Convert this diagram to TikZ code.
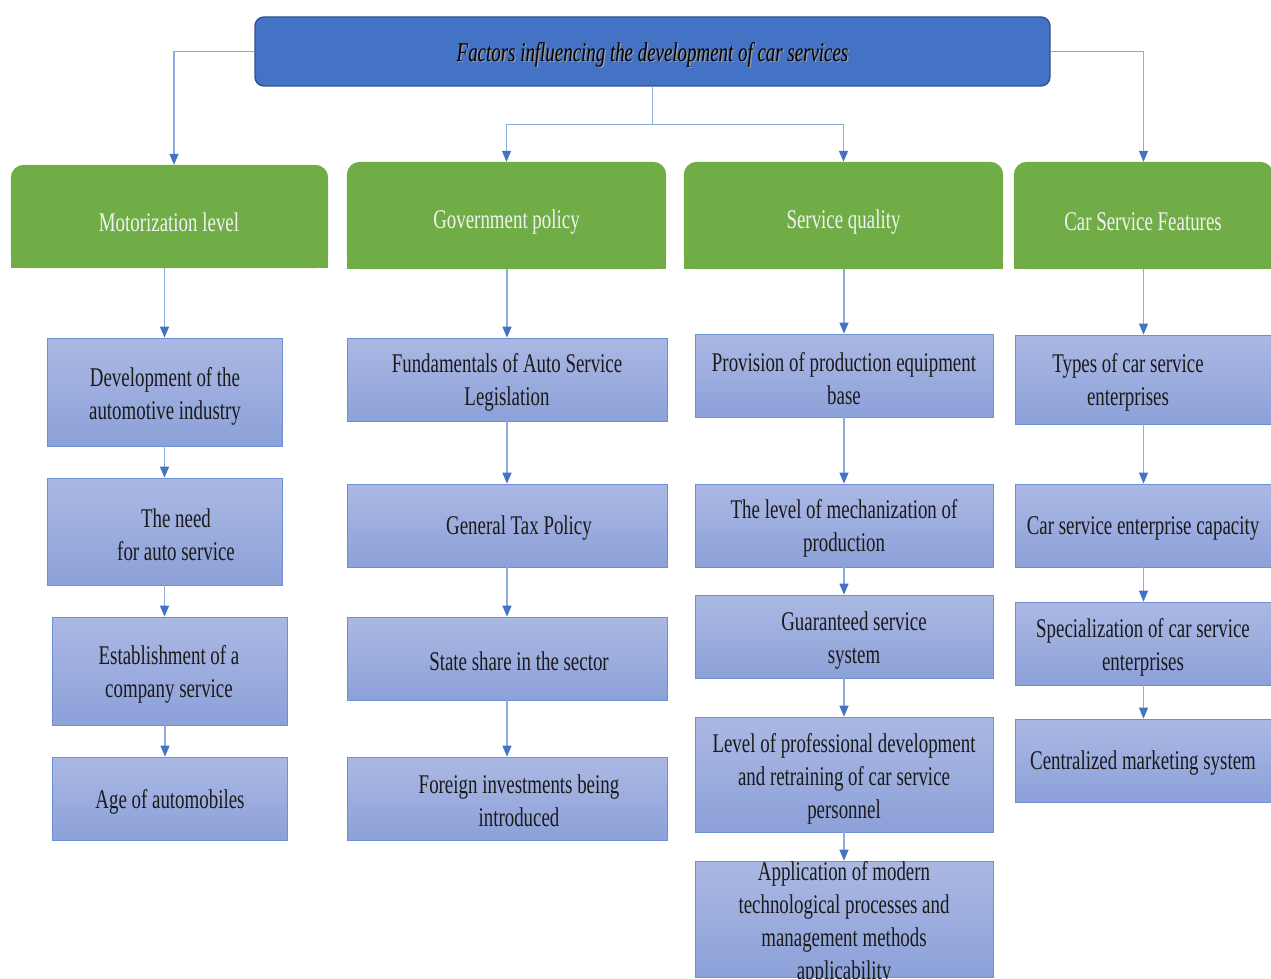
\documentclass[tikz,border=0pt]{standalone}
\usepackage{fontspec}
\setmainfont{Liberation Serif}[FakeStretch=0.7]
\usetikzlibrary{arrows.meta,backgrounds,calc}
\definecolor{topblue}{HTML}{4472C4}
\definecolor{topborder}{HTML}{2F528F}
\definecolor{gfill}{HTML}{70AD47}
\definecolor{btop}{HTML}{ABB8E3}
\definecolor{bbot}{HTML}{8CA1D9}
\definecolor{bborder}{HTML}{6E8ED6}
\definecolor{lineblue}{HTML}{8FAADC}
\definecolor{tipblue}{HTML}{4472C4}
\definecolor{txt}{HTML}{1A1A1A}
\newcommand{\bx}[8]{%
  \node[bbox, minimum width=#4, minimum height=#5] (#1) at (#2,#3) {};
  \node[btext] (#1t) at (#6,#7) {#8};}
\begin{document}
\begin{tikzpicture}[x=1pt,y=-1pt,
  bbox/.style={draw=bborder, line width=0.8pt, top color=btop, bottom color=bbot, inner sep=0pt},
  btext/.style={align=center, text=txt, font=\fontsize{27}{33}\selectfont, inner sep=0pt, yshift=-2.5pt},
  gbox/.style={inner sep=0pt},
  gtext/.style={align=center, text=white!95!black, font=\fontsize{27}{33}\selectfont, inner sep=0pt, yshift=-2pt},
  conn/.style={draw=lineblue, line width=1.3pt, -{Triangle[width=9pt,length=11pt,color=tipblue]}},
  plain/.style={draw=lineblue, line width=1.3pt}]
\useasboundingbox (0,0) rectangle (1271,979);
% top box
\node[draw=topborder, line width=1.4pt, fill=topblue, rounded corners=9pt,
      minimum width=795pt, minimum height=69pt, inner sep=0pt] (top) at (652.5,51.5) {};
\node[font=\fontsize{27}{33}\selectfont\itshape, text=black!40, inner sep=0pt] at (654,55.5)
      {Factors influencing the development of car services};
\node[font=\fontsize{27}{33}\selectfont\itshape, text=black, inner sep=0pt] (topt) at (652.5,54.5)
      {Factors influencing the development of car services};
% green boxes
\node[gbox, minimum width=317pt, minimum height=103pt] (g1) at (169.5,216.5) {};
\node[gbox, minimum width=319pt, minimum height=107pt] (g2) at (506.5,215.5) {};
\node[gbox, minimum width=319pt, minimum height=107pt] (g3) at (843.5,215.5) {};
\node[gbox, minimum width=259pt, minimum height=107pt] (g4) at (1143.5,215.5) {};
\begin{scope}[on background layer]
\foreach \n in {g1,g2,g3,g4}{
  \fill[gfill, rounded corners=13pt] (\n.south west) rectangle (\n.north east);
  \fill[gfill] (\n.south west) rectangle (\n.east);
}
\end{scope}
\node[gtext] (g1t) at (169,220) {Motorization level};
\node[gtext] (g2t) at (506.5,220) {Government policy};
\node[gtext] (g3t) at (843.5,220) {Service quality};
\node[gtext] (g4t) at (1143,220) {Car Service Features};
% column 1
\bx{a1}{164.5}{392}{235pt}{108pt}{165}{393.5}{Development of the\\automotive industry}
\bx{a2}{164.5}{531.5}{235pt}{107pt}{176}{532}{The need\\for auto service}
\bx{a3}{169.5}{671}{235pt}{108pt}{169}{672}{Establishment of a\\company service}
\bx{a4}{169.5}{798.5}{235pt}{83pt}{170}{799}{Age of automobiles}
% column 2
\bx{b1}{507}{379.5}{320pt}{83pt}{507}{380}{Fundamentals of Auto Service\\Legislation}
\bx{b2}{507}{525.5}{320pt}{83pt}{519}{526}{General Tax Policy}
\bx{b3}{507}{658.5}{320pt}{83pt}{519}{659}{State share in the sector}
\bx{b4}{507}{798.5}{320pt}{83pt}{519}{798}{Foreign investments being\\introduced}
% column 3
\bx{c1}{844}{375.5}{298pt}{83pt}{844}{376}{Provision of production equipment\\base}
\bx{c2}{844}{525.5}{298pt}{83pt}{844}{526}{The level of mechanization of\\production}
\bx{c3}{844}{636.5}{298pt}{83pt}{854}{638}{Guaranteed service\\system}
\bx{c4}{844}{774.5}{298pt}{115pt}{844}{776}{Level of professional development\\and retraining of car service\\personnel}
\bx{c5}{844}{919}{298pt}{116pt}{844}{920.5}{Application of modern\\technological processes and\\management methods\\applicability}
% column 4
\bx{d1}{1143.5}{379.5}{257pt}{89pt}{1128}{380}{Types of car service\\enterprises}
\bx{d2}{1143.5}{525.5}{257pt}{83pt}{1143}{526}{Car service enterprise capacity}
\bx{d3}{1143.5}{643.5}{257pt}{83pt}{1143}{645}{Specialization of car service\\enterprises}
\bx{d4}{1143.5}{760.5}{257pt}{83pt}{1143}{761}{Centralized marketing system}
% connectors from top
\draw[conn] (top.west) -| ($(g1.north)+(4.5,0)$);
\draw[conn] (top.east) -| (g4.north);
\draw[plain] (top.south) -- ++(0,38) coordinate (hub);
\draw[conn] (hub) -| (g2.north);
\draw[conn] (hub) -| (g3.north);
% column 1
\draw[conn] (a1.north |- g1.south) -- (a1.north);
\draw[conn] (a1.south) -- (a2.north);
\draw[conn] (a2.south) -- (a2.south |- a3.north);
\draw[conn] ($(a3.south)+(-4.5,0)$) -- ($(a4.north)+(-4.5,0)$);
% column 2
\draw[conn] (b1.north |- g2.south) -- (b1.north);
\draw[conn] (b1.south) -- (b2.north);
\draw[conn] (b2.south) -- (b3.north);
\draw[conn] (b3.south) -- (b4.north);
% column 3
\draw[conn] (c1.north |- g3.south) -- (c1.north);
\draw[conn] (c1.south) -- (c2.north);
\draw[conn] (c2.south) -- (c3.north);
\draw[conn] (c3.south) -- (c4.north);
\draw[conn] (c4.south) -- (c5.north);
% column 4
\draw[conn] (d1.north |- g4.south) -- (d1.north);
\draw[conn] (d1.south) -- (d2.north);
\draw[conn] (d2.south) -- (d3.north);
\draw[conn] (d3.south) -- (d4.north);
\end{tikzpicture}
\end{document}
